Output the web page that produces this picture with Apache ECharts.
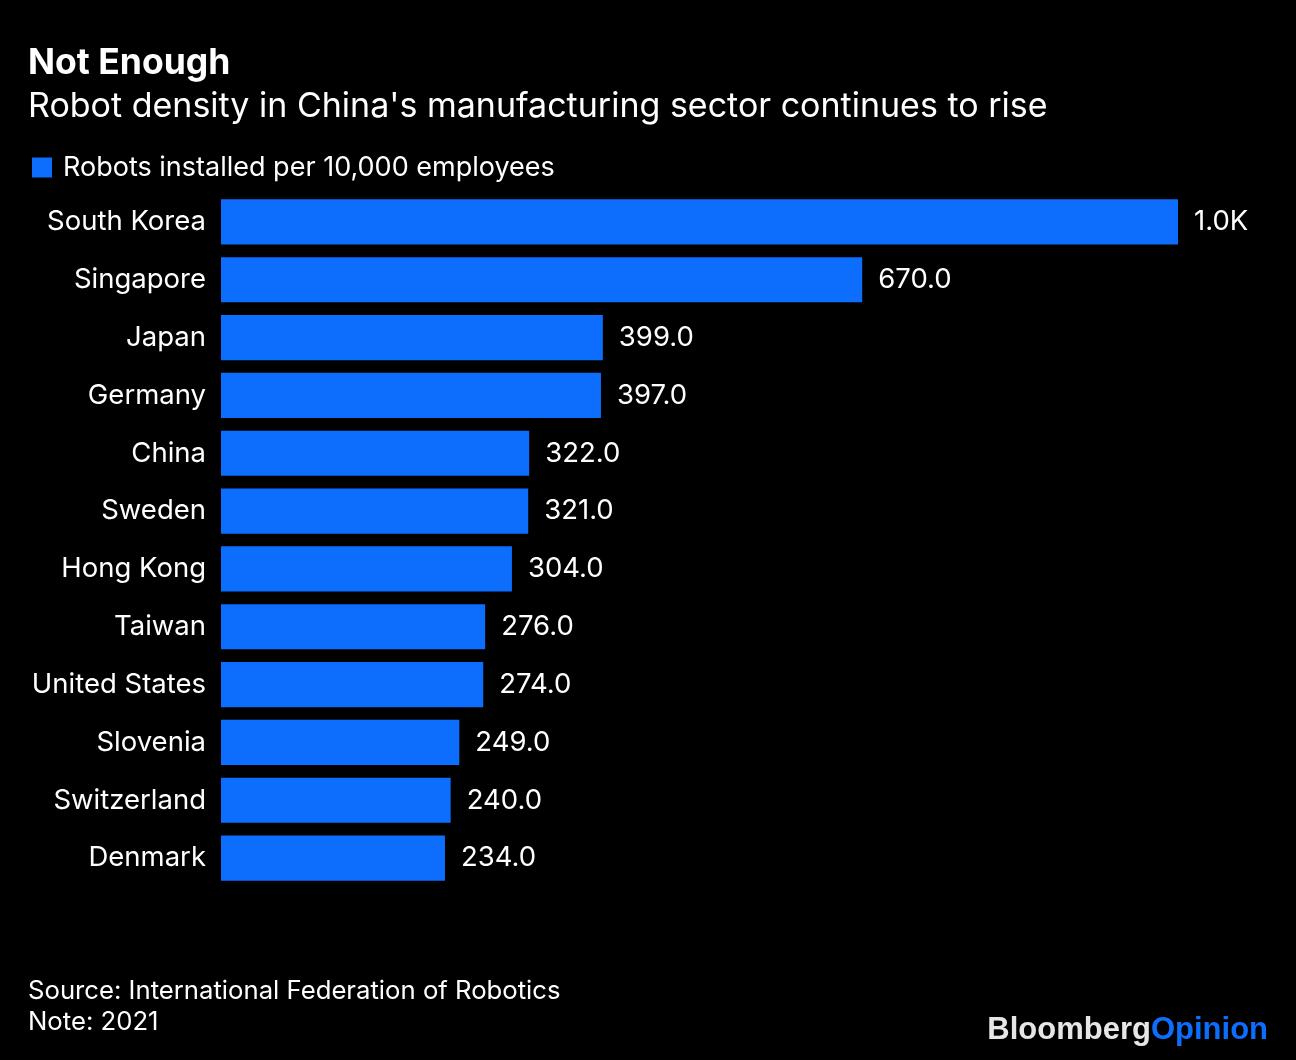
<!DOCTYPE html>
<html>
<head>
<meta charset="utf-8">
<script src="https://cdn.jsdelivr.net/npm/echarts@6/dist/echarts.min.js"></script>
<style>
html,body{margin:0;padding:0;background:#000;}
#chart{width:1296px;height:1060px;}
</style>
</head>
<body>
<div id="chart"></div>
<script>
const categories = ["South Korea","Singapore","Japan","Germany","China","Sweden","Hong Kong","Taiwan","United States","Slovenia","Switzerland","Denmark"];
const values = [1000,670,399,397,322,321,304,276,274,249,240,234];
const seriesName = "Robots installed per 10,000 employees";

const FONT = "Inter, 'Liberation Sans', Arial, sans-serif";
const LOGO_FONT = "'Liberation Sans', Arial, sans-serif";
const BLUE = "#0d6efd";
const chart = echarts.init(document.getElementById('chart'));
chart.setOption({
  backgroundColor: '#000',
  animation: false,
  textStyle: {fontFamily: FONT},
  title: [
    {text: 'Not Enough', left: 28, top: 45, padding: 0, textStyle: {color:'#fff', fontSize: 35.5, fontWeight:'bold', fontFamily: FONT}},
    {text: "Robot density in China's manufacturing sector continues to rise", left: 28, top: 90, padding: 0, textStyle: {color:'#fff', fontSize: 34, fontWeight:'normal', fontFamily: FONT}},
    {text: "Source: International Federation of Robotics\nNote: 2021", left: 28, top: 976, padding: 0, textStyle: {color:'#fff', fontSize: 25.7, fontWeight:'normal', lineHeight: 31, fontFamily: FONT}}
  ],
  legend: {
    left: 27, top: 149, itemWidth: 20, itemHeight: 20, itemGap: 10,
    icon: 'rect',
    textStyle: {color:'#fff', fontSize: 27, fontFamily: FONT, padding:[0,0,0,6]},
    data: [seriesName]
  },
  grid: {left: 221, top: 193, width: 957, height: 694, containLabel: false},
  xAxis: {type:'value', min:0, max:1000, show:false},
  yAxis: {
    type:'category', data: categories, inverse: true,
    axisLine:{show:false}, axisTick:{show:false}, splitLine:{show:false},
    axisLabel:{color:'#fff', fontSize: 27.5, margin: 15, fontFamily: FONT}
  },
  series: [{
    name: seriesName, type:'bar', data: values, barWidth: '78%',
    itemStyle:{color: BLUE},
    label:{show:true, position:'right', distance: 16, color:'#fff', fontSize: 27.5, fontFamily: FONT,
      formatter: p => p.value >= 1000 ? (p.value/1000).toFixed(1)+'K' : p.value.toFixed(1)}
  }],
  graphic: [{
    type:'text', right: 28, top: 1015,
    style:{rich:{a:{fill:'#e6e6e6', fontSize:31, fontWeight:'bold', fontFamily: LOGO_FONT}, b:{fill: BLUE, fontSize:31, fontWeight:'bold', fontFamily: LOGO_FONT}}, text:'{a|Bloomberg}{b|Opinion}'}
  }]
});
</script>
</body>
</html>
